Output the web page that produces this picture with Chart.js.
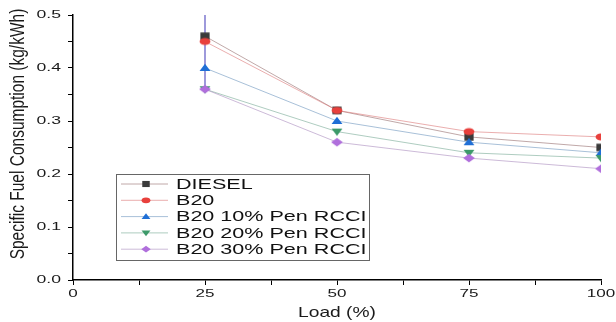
<!DOCTYPE html>
<html>
<head>
<meta charset="utf-8">
<script src="https://cdn.jsdelivr.net/npm/chart.js@4/dist/chart.umd.min.js"></script>
<style>
  html, body { margin: 0; padding: 0; background: #fff; }
  #wrap { width: 616px; height: 322px; }
</style>
</head>
<body>
<div id="wrap"><canvas id="sfc-chart"></canvas></div>
<script>
// data
const loads = [25, 50, 75, 100];
const diesel = [0.46, 0.32, 0.27, 0.25];
const b20 = [0.45, 0.32, 0.28, 0.27];
const pen10 = [0.40, 0.30, 0.26, 0.24];
const pen20 = [0.36, 0.28, 0.24, 0.23];
const pen30 = [0.36, 0.26, 0.23, 0.21];
const errX = [25, 25];
const errY = [0.50, 0.36];
const xTickLabels = ["0", "25", "50", "75", "100"];
const yTickLabels = ["0.0", "0.1", "0.2", "0.3", "0.4", "0.5"];

const seriesNames = ["DIESEL", "B20", "B20 10% Pen RCCI", "B20 20% Pen RCCI", "B20 30% Pen RCCI"];
const markerColors = ["#3a3a3a", "#e8403c", "#1f6fd6", "#3d9a6a", "#b06fdc"];
const lineColors = ["rgba(150,110,110,0.6)", "rgba(220,120,120,0.6)", "rgba(110,150,190,0.6)", "rgba(120,170,150,0.6)", "rgba(170,140,190,0.6)"];
const shapes = ["rect", "circle", "triangle", "triangleDown", "rectRot"];
const FONT = "'Liberation Sans', Arial, sans-serif";

function pts(ys) {
    let out = [];
    for (let i = 0; i < loads.length; i++) out.push({x: loads[i], y: ys[i]});
    return out;
}

// draw one marker shape (the figure is a bit stretched sideways)
function drawMarker(ctx, shape, x, y, r, color) {
    ctx.save();
    ctx.fillStyle = color;
    ctx.beginPath();
    if (shape === "rect") {
        ctx.rect(x - r * 1.1, y - r * 0.9, 2.2 * r, 1.8 * r);
    } else if (shape === "circle") {
        ctx.ellipse(x, y, r * 1.3, r * 0.85, 0, 0, Math.PI * 2);
    } else if (shape === "triangle") {
        ctx.moveTo(x, y - r);
        ctx.lineTo(x + r * 1.3, y + r * 0.7);
        ctx.lineTo(x - r * 1.3, y + r * 0.7);
    } else if (shape === "triangleDown") {
        ctx.moveTo(x, y + r);
        ctx.lineTo(x + r * 1.3, y - r * 0.7);
        ctx.lineTo(x - r * 1.3, y - r * 0.7);
    } else {
        ctx.moveTo(x, y - r);
        ctx.lineTo(x + r * 1.4, y);
        ctx.lineTo(x, y + r);
        ctx.lineTo(x - r * 1.4, y);
    }
    ctx.closePath();
    ctx.fill();
    ctx.restore();
}

function markerCanvas(i) {
    const c = document.createElement("canvas");
    c.width = 14; c.height = 12;
    drawMarker(c.getContext("2d"), shapes[i], 7, 6, 4.2, markerColors[i]);
    return c;
}

// text stretched sideways, like the original bitmap
function wideText(ctx, txt, x, y, size, sx, align) {
    ctx.save();
    ctx.font = size + "px " + FONT;
    const w = ctx.measureText(txt).width * sx;
    let left = x;
    if (align === "center") left = x - w / 2;
    if (align === "right") left = x - w;
    ctx.translate(left, y);
    ctx.scale(sx, 1);
    ctx.textAlign = "left";
    ctx.textBaseline = "middle";
    ctx.fillText(txt, 0, 0);
    ctx.restore();
}

const textLayer = {
    id: "textLayer",
    afterDraw(chart) {
        const ctx = chart.ctx;
        const xs = chart.scales.x;
        const ys = chart.scales.y;
        ctx.save();
        ctx.fillStyle = "#1a1a1a";
        xTickLabels.forEach(t => {
            wideText(ctx, t, xs.getPixelForValue(Number(t)), 294, 11, 1.55, "center");
        });
        yTickLabels.forEach(t => {
            wideText(ctx, t, 61, ys.getPixelForValue(Number(t)), 11, 1.6, "right");
        });
        wideText(ctx, "Load (%)", (xs.left + xs.right) / 2, 313, 15, 1.28, "center");

        // rotated y title
        ctx.save();
        ctx.translate(19, 134);
        ctx.rotate(-Math.PI / 2);
        ctx.scale(1, 1.25);
        ctx.font = "15.5px " + FONT;
        ctx.textAlign = "center";
        ctx.textBaseline = "middle";
        ctx.fillText("Specific Fuel Consumption (kg/kWh)", 0, 0);
        ctx.restore();

        // legend box inside the plot
        const x0 = 116, y0 = 174, w = 253, h = 86;
        ctx.strokeStyle = "#666";
        ctx.lineWidth = 1;
        ctx.strokeRect(x0 + 0.5, y0 + 0.5, w, h);
        for (let i = 0; i < seriesNames.length; i++) {
            const y = y0 + 10 + i * 16.3;
            ctx.strokeStyle = lineColors[i];
            ctx.beginPath();
            ctx.moveTo(x0 + 5, y);
            ctx.lineTo(x0 + 52, y);
            ctx.stroke();
            drawMarker(ctx, shapes[i], x0 + 30, y, 3.4, markerColors[i]);
            ctx.fillStyle = "#111";
            wideText(ctx, seriesNames[i], x0 + 60, y + 1, 14, 1.54, "left");
        }
        ctx.restore();
    }
};

const allSeries = [diesel, b20, pen10, pen20, pen30];
let datasets = [];
datasets.push({
    label: "err",
    data: [{x: errX[0], y: errY[0]}, {x: errX[1], y: errY[1]}],
    borderColor: "#6a64c8",
    borderWidth: 1.3,
    pointRadius: 0,
    order: 20
});
allSeries.forEach((s, i) => {
    datasets.push({
        label: seriesNames[i],
        data: pts(s),
        borderColor: lineColors[i],
        borderWidth: 1,
        pointStyle: markerCanvas(i),
        pointRadius: 5,
        tension: 0,
        order: 10 - i   // later series drawn on top, as in the figure
    });
});

const ctx = document.getElementById("sfc-chart");
new Chart(ctx, {
    type: "line",
    data: { datasets: datasets },
    plugins: [textLayer],
    options: {
        responsive: true,
        maintainAspectRatio: false,
        animation: false,
        layout: { padding: { top: 15, right: 15, left: 0, bottom: 0 } },
        plugins: {
            legend: { display: false },
            tooltip: { enabled: false }
        },
        scales: {
            x: {
                type: "linear",
                min: 0,
                max: 100,
                afterFit: (s) => { s.height = 42; },
                border: { color: "#000", width: 1.5 },
                grid: { drawOnChartArea: false, drawTicks: true, tickLength: 5, color: "#000" },
                ticks: {
                    stepSize: 12.5,
                    autoSkip: false,
                    maxRotation: 0,
                    color: "rgba(0,0,0,0)",
                    font: { family: FONT, size: 11 },
                    callback: (v) => (v % 25 === 0 ? v : "")
                }
            },
            y: {
                min: 0,
                max: 0.5,
                afterFit: (s) => { s.width = 73; },
                border: { color: "#000", width: 1.5 },
                grid: { drawOnChartArea: false, drawTicks: true, tickLength: 5, color: "#000" },
                ticks: {
                    stepSize: 0.05,
                    autoSkip: false,
                    color: "rgba(0,0,0,0)",
                    font: { family: FONT, size: 11 },
                    callback: (v) => (Math.round(v * 100) % 10 === 0 ? v.toFixed(1) : "")
                }
            }
        }
    }
});
</script>
</body>
</html>
